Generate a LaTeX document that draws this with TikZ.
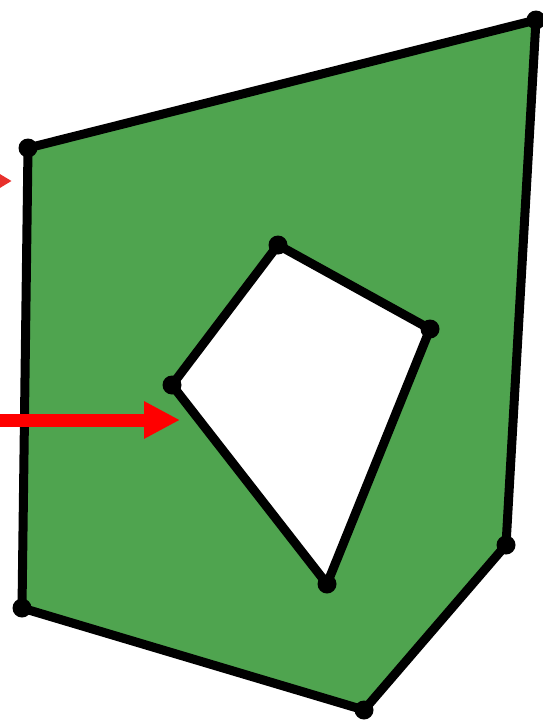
\documentclass[tikz,border=0pt]{standalone}
\usetikzlibrary{arrows.meta}
\definecolor{polygreen}{HTML}{4FA44F}
\definecolor{arrowred}{HTML}{FF0000}
\definecolor{arrowredsoft}{HTML}{E8302C}
\begin{document}
\begin{tikzpicture}[x=1pt,y=-1pt,
  edge/.style={line width=9pt, line join=round, draw=black},
  vertexdot/.style={fill=black},
  redarrow/.style={line width=13pt, draw=arrowred, -{Triangle[length=36pt,width=35pt,fill=arrowred]}},
  softarrow/.style={line width=13pt, draw=arrowredsoft, -{Triangle[length=36pt,width=40pt,fill=arrowredsoft]}}]
\useasboundingbox (0,0) rectangle (543,720);
\clip (0,0) rectangle (543,720);
% outer polygon
\coordinate (o1) at (28,148);
\coordinate (o2) at (536,20);
\coordinate (o3) at (506,545);
\coordinate (o4) at (364,710);
\coordinate (o5) at (22,608);
% hole
\coordinate (h1) at (278,245);
\coordinate (h2) at (430,329);
\coordinate (h3) at (327,584);
\coordinate (h4) at (172,385);
\path[fill=polygreen, even odd rule] (o1) -- (o2) -- (o3) -- (o4) -- (o5) -- cycle
  (h1) -- (h2) -- (h3) -- (h4) -- cycle;
\draw[edge] (o1) -- (o2) -- (o3) -- (o4) -- (o5) -- cycle;
\draw[edge] (h1) -- (h2) -- (h3) -- (h4) -- cycle;
\foreach \v in {o1,o2,o3,o4,o5,h1,h2,h3,h4}
  \fill[vertexdot] (\v) circle (9.5pt);
% arrows
\coordinate (a1s) at (-60,181);
\coordinate (a1e) at (12,181);
\coordinate (a2s) at (-10,420);
\coordinate (a2e) at (180,420);
\draw[softarrow] (a1s) -- (a1e);
\draw[redarrow] (a2s) -- (a2e);
\end{tikzpicture}
\end{document}
